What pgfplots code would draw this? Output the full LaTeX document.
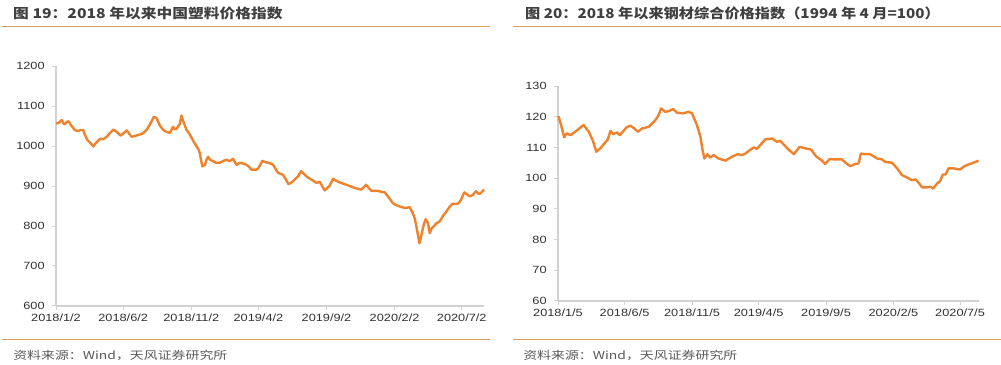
\documentclass[border=0pt]{standalone}
\usepackage{pgfplots}
\pgfplotsset{compat=1.18}
\usepackage{fontspec}
\setmainfont{Liberation Sans}
\newfontfamily\cjk{Noto Sans CJK SC}
\definecolor{lineor}{RGB}{238,130,45}
\definecolor{ruleor}{RGB}{214,160,100}
\definecolor{axgray}{RGB}{210,210,210}
\definecolor{txt}{RGB}{50,50,50}
\definecolor{ttl}{RGB}{64,64,64}
\definecolor{foot}{RGB}{89,89,89}
\begin{document}
\begin{tikzpicture}
\path[use as bounding box] (0,0) rectangle (1001bp,365bp);
\pgfplotsset{
  mystyle/.style={
    scale only axis,
    axis lines*=left,
    axis line style={axgray, line width=1.3bp},
    tick style={axgray, line width=1bp},
    tick align=outside,
    major tick length=4bp,
    /pgf/number format/assume math mode=true,
    /pgf/number format/1000 sep={},
    tick label style={font=\fontsize{10.5}{12}\selectfont, text=txt, xscale=1.22},
    yticklabel style={xshift=-2.5bp},
    clip=false,
  }
}
% Left chart
\begin{axis}[mystyle,
  at={(56bp,59bp)}, anchor=south west,
  width=428bp, height=240bp,
  xmin=0, xmax=962, ymin=600, ymax=1200,
  ytick={600,700,800,900,1000,1100,1200},
  xtick={0,151,304,455,608,761,912},
  xticklabels={2018/1/2,2018/6/2,2018/11/2,2019/4/2,2019/9/2,2020/2/2,2020/7/2},
]
\addplot[lineor, line width=2.4bp, line join=round] coordinates {
(0,1056) (6,1058) (13,1065) (17,1056) (20,1054) (24,1060) (28,1062) (35,1050) (43,1039) (50,1038) (55,1040) (61,1040) (65,1028) (70,1016) (77,1008) (84,999) (90,1008) (99,1018) (106,1017) (114,1023) (121,1032) (129,1041) (136,1036) (145,1026) (152,1032) (159,1039) (165,1030) (170,1023) (180,1026) (189,1029) (196,1032) (204,1041) (210,1052) (215,1062) (220,1073) (226,1070) (230,1060) (234,1050) (240,1042) (245,1037) (250,1035) (256,1033) (263,1048) (267,1042) (271,1043) (275,1050) (278,1054) (282,1076) (286,1062) (290,1050) (293,1041) (300,1030) (305,1020) (310,1010) (316,999) (320,992) (323,983) (326,965) (329,949) (335,953) (338,965) (342,973) (347,965) (353,962) (360,958) (368,958) (375,962) (383,966) (390,962) (398,968) (402,960) (406,953) (413,958) (421,956) (428,953) (434,948) (439,941) (445,941) (451,941) (455,945) (460,955) (464,963) (470,960) (477,958) (483,956) (488,953) (494,942) (499,933) (505,930) (510,928) (516,918) (522,905) (527,907) (533,912) (538,918) (544,924) (551,937) (556,932) (563,924) (568,920) (574,916) (580,912) (585,908) (593,910) (598,900) (604,889) (610,895) (615,901) (623,918) (630,913) (638,909) (645,906) (653,903) (660,900) (667,897) (675,894) (686,891) (692,897) (697,903) (703,895) (709,888) (718,888) (727,887) (733,885) (739,884) (746,874) (752,865) (757,857) (765,852) (772,849) (778,847) (784,845) (790,846) (795,847) (802,832) (806,820) (810,799) (814,775) (817,757) (820,770) (823,786) (827,805) (831,817) (836,807) (840,782) (844,794) (850,800) (855,807) (862,811) (866,818) (870,826) (876,834) (881,842) (886,850) (892,856) (898,855) (903,856) (907,860) (911,867) (915,878) (918,884) (924,879) (930,874) (937,878) (944,887) (948,882) (952,880) (957,885) (962,891)
};
\end{axis}
% Right chart
\begin{axis}[mystyle,
  at={(558bp,64bp)}, anchor=south west,
  width=421bp, height=215bp,
  xmin=0, xmax=955, ymin=60, ymax=130,
  ytick={60,70,80,90,100,110,120,130},
  xtick={0,151,304,455,608,761,912},
  xticklabels={2018/1/5,2018/6/5,2018/11/5,2019/4/5,2019/9/5,2020/2/5,2020/7/5},
]
\addplot[lineor, line width=2.4bp, line join=round] coordinates {
(1,120.2) (7,117.3) (14,113.3) (20,114.6) (28,114.0) (39,115.1) (58,117.3) (70,115.1) (79,112.2) (87,108.6) (96,109.7) (113,112.6) (119,115.4) (126,114.3) (134,114.9) (140,114.0) (147,115.1) (155,116.5) (164,117.1) (173,116.2) (181,115.1) (191,116.2) (206,116.7) (221,118.9) (228,120.5) (234,122.7) (243,121.6) (251,121.8) (261,122.5) (270,121.3) (284,121.1) (296,121.6) (304,121.1) (315,117.3) (323,113.5) (328,109.1) (332,106.4) (339,107.8) (345,106.7) (353,107.5) (364,106.4) (380,105.7) (395,107.0) (408,107.8) (417,107.5) (425,108.0) (433,108.9) (444,110.0) (451,109.5) (459,110.8) (470,112.6) (486,112.9) (497,111.8) (504,112.2) (520,109.7) (535,107.8) (548,110.2) (561,109.7) (574,109.3) (586,107.0) (599,105.7) (606,104.6) (616,106.2) (629,106.1) (644,106.1) (654,104.8) (663,103.9) (674,104.6) (682,104.8) (687,108.0) (697,107.8) (708,107.8) (724,106.4) (735,106.1) (742,105.3) (758,105.0) (769,103.2) (780,101.0) (792,100.2) (803,99.3) (811,99.6) (818,98.5) (826,97.0) (837,97.0) (845,97.2) (851,96.6) (860,98.3) (867,99.1) (873,101.2) (879,101.2) (886,103.2) (897,103.2) (912,102.8) (922,103.9) (932,104.5) (939,104.8) (947,105.3) (954,105.7)
};
\end{axis}
% Titles
\node[anchor=west, inner sep=0pt, text=ttl, font=\cjk\bfseries\fontsize{13.5}{16}\selectfont, xscale=1.17] at (13bp,352bp) {图 19：2018 年以来中国塑料价格指数};
\node[anchor=west, inner sep=0pt, text=ttl, font=\cjk\bfseries\fontsize{13.5}{16}\selectfont, xscale=1.13] at (525bp,352bp) {图 20：2018 年以来钢材综合价格指数（1994 年 4 月=100）};
% Rules
\draw[ruleor, line width=1bp] (2bp,338bp) -- (490bp,338bp);
\draw[ruleor, line width=1bp] (513bp,338bp) -- (1001bp,338bp);
\draw[ruleor, line width=1bp] (2bp,25bp) -- (490bp,25bp);
\draw[ruleor, line width=1bp] (513bp,25bp) -- (1001bp,25bp);
% Footers
\node[anchor=west, inner sep=0pt, text=foot, font=\cjk\fontsize{11}{13}\selectfont, xscale=1.27] at (13bp,10bp) {资料来源：Wind，天风证券研究所};
\node[anchor=west, inner sep=0pt, text=foot, font=\cjk\fontsize{11}{13}\selectfont, xscale=1.27] at (523bp,10bp) {资料来源：Wind，天风证券研究所};
\end{tikzpicture}
\end{document}
